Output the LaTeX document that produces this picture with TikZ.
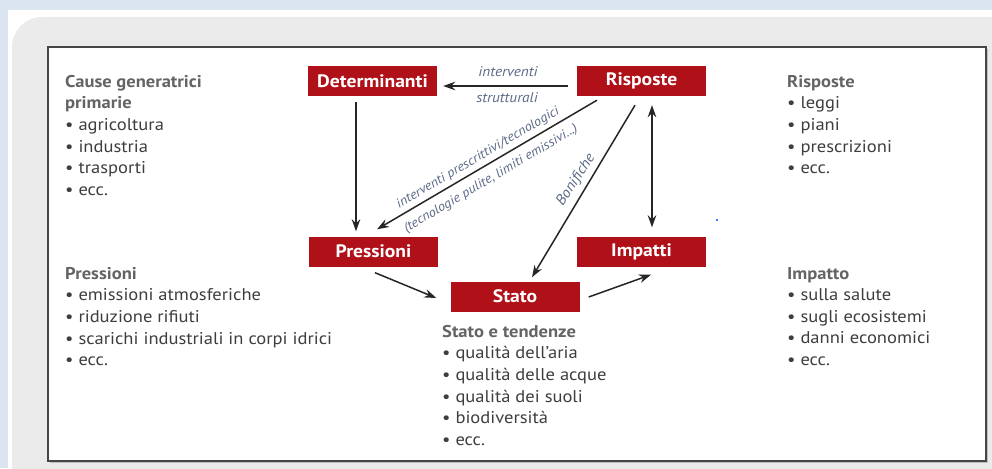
\documentclass[tikz,border=0pt]{standalone}
\usepackage{fontspec}
\setmainfont{PT Sans}[FakeStretch=1.09]
\usetikzlibrary{arrows.meta,calc}
\definecolor{bgblue}{RGB}{219,229,240}
\definecolor{panel}{RGB}{235,235,235}
\definecolor{dred}{RGB}{176,16,24}
\definecolor{hdr}{RGB}{100,100,100}
\definecolor{itm}{RGB}{62,62,62}
\definecolor{lbl}{RGB}{92,106,135}
\definecolor{frame}{RGB}{70,70,70}
\newcommand\hdrtxt[1]{\textcolor{hdr}{\textbf{#1}}}
\tikzset{
  redbox/.style={fill=dred, text=white, font=\fontsize{18}{20}\selectfont\bfseries,
    minimum width=129pt, minimum height=30pt, inner sep=0pt},
  listtxt/.style={anchor=north west, align=left, inner sep=0pt,
    font=\fontsize{17}{21.6}\selectfont, text=itm},
  arr/.style={draw=black!85, line width=1.5pt, -{Stealth[length=12pt,width=8.5pt]}},
  darr/.style={draw=black!85, line width=1.5pt, {Stealth[length=12pt,width=8.5pt]}-{Stealth[length=12pt,width=8.5pt]}},
  lab/.style={text=lbl, font=\fontsize{14}{15}\selectfont\itshape, inner sep=0pt},
  rlab/.style={text=lbl, font=\fontsize{13}{14}\selectfont\itshape, inner sep=0pt}
}
\begin{document}
\begin{tikzpicture}[x=1pt,y=-1pt]
\useasboundingbox (0,0) rectangle (992,468);
% background layers
\fill[bgblue] (0,0) rectangle (992,468);
\fill[white] (8,10) rectangle (992,468);
\fill[panel, rounded corners=30pt] (12,17) rectangle (1030,500);
\fill[black!25] (50,49) rectangle (988,463);
\fill[white] (48,47) rectangle (986,461);
\draw[frame, line width=1.3pt] (48,47) rectangle (986,461);

% boxes
\node[redbox] (det) at (372.5,81) {Determinanti};
\node[redbox] (ris) at (641.5,81) {Risposte};
\node[redbox] (pre) at (373.5,251.5) {Pressioni};
\node[redbox] (imp) at (641.5,251.5) {Impatti};
\node[redbox] (sta) at (515,296.5) {Stato};

% connectors
\draw[arr] ($(ris.west)+(-9,5)$) -- ($(det.east)+(6,5)$);
\draw[arr] ($(det.south)+(-16.5,6)$) -- ($(pre.north)+(-17.5,-5)$);
\draw[arr] ($(ris.south)+(-44.5,4)$) coordinate (r1) -- ($(pre.north)+(3.5,-7)$) coordinate (p1);
\draw[arr] ($(ris.south)+(-6.5,9)$) coordinate (r2) -- ($(sta.north)+(17,-4)$) coordinate (s2);
\draw[darr] ($(ris.south)+(10.5,9)$) -- ($(imp.north)+(10.5,-9)$);
\draw[arr] ($(pre.south)+(1.5,6)$) -- ($(sta.west)+(-14,1.5)$);
\draw[arr] ($(sta.east)+(9,0.5)$) -- ($(imp.south)+(9.5,8)$);

% connector labels
\node[lab] (l1) at (508,72) {interventi};
\node[lab] (l2) at (507,98) {strutturali};
\node[rlab, rotate=30.6] (l3) at (478,158) {interventi prescrittivi/tecnologici};
\node[rlab, rotate=30.6] (l4) at (491,179) {(tecnologie pulite, limiti emissivi...)};
\node[rlab, font=\fontsize{14.5}{15}\selectfont\itshape, rotate=57] (l5) at (576,180) {Bonifiche};

% stray dot
\fill[blue!70!cyan] (717,220) circle (1.2pt);

% lists
\node[listtxt] (c1) at (65,75) {\hdrtxt{Cause generatrici}\\\hdrtxt{primarie}\\• agricoltura\\• industria\\• trasporti\\• ecc.};
\node[listtxt] (c2) at (65,267) {\hdrtxt{Pressioni}\\• emissioni atmosferiche\\• riduzione rifiuti\\• scarichi industriali in corpi idrici\\• ecc.};
\node[listtxt] (c3) at (787,75) {\hdrtxt{Risposte}\\• leggi\\• piani\\• prescrizioni\\• ecc.};
\node[listtxt] (c4) at (787,267) {\hdrtxt{Impatto}\\• sulla salute\\• sugli ecosistemi\\• danni economici\\• ecc.};
\node[listtxt] (c5) at (442,325) {\hdrtxt{Stato e tendenze}\\• qualità dell’aria\\• qualità delle acque\\• qualità dei suoli\\• biodiversità\\• ecc.};
\end{tikzpicture}
\end{document}
